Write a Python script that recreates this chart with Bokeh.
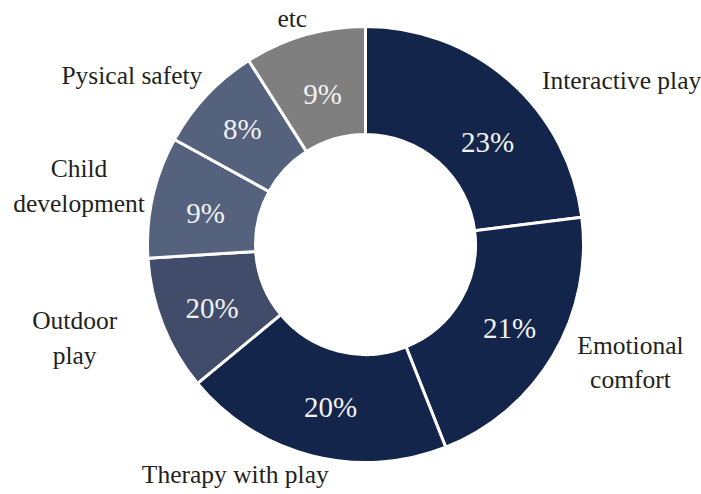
import math
from bokeh.plotting import figure
from bokeh.models import ColumnDataSource, Range1d
from bokeh.core.properties import value
from bokeh.embed import file_html
from bokeh.resources import INLINE

# ---- data ----
categories = ["Interactive play", "Emotional comfort", "Therapy with play", "Outdoor play",
              "Child development", "Pysical safety", "etc"]
outer_labels = ["Interactive play", "Emotional\ncomfort", "Therapy with play", "Outdoor\nplay",
                "Child\ndevelopment", "Pysical safety", "etc"]
shares = [23, 21, 20, 10, 9, 8, 9]            # slice sizes as drawn
pct_labels = ["23%", "21%", "20%", "20%", "9%", "8%", "9%"]  # labels as printed
colors = ["#13254a", "#13254a", "#13254a", "#404c6a", "#55627e", "#55627e", "#7f7f7f"]

# ---- layout / style ----
W, H = 701, 494
CX, CY = 365, H - 244
R_OUT, R_IN = 218, 110
R_PCT = 165
R_LAB = 230
pct_dx = [13, 2, 6, 0, 1, -3, 3]
pct_dy = [21, 0, 3, 3, 4, -3, 8]
lab_dx = [104, 67, -73, -77, -62, -66, -9]
lab_dy = [9, 1, 7, 9, -8, -12, -5]
FONT = value("Liberation Serif")

total = float(sum(shares))
starts, ends, mids = [], [], []
cum = 0.0
for s in shares:
    a0 = math.pi / 2 - 2 * math.pi * cum / total
    cum += s
    a1 = math.pi / 2 - 2 * math.pi * cum / total
    starts.append(a1)
    ends.append(a0)
    mids.append((a0 + a1) / 2)

wedges = ColumnDataSource(dict(start=starts, end=ends, color=colors, name=categories))

pct_src = ColumnDataSource(dict(
    x=[CX + R_PCT * math.cos(m) for m in mids],
    y=[CY + R_PCT * math.sin(m) for m in mids],
    text=pct_labels, xo=pct_dx, yo=pct_dy))

lab_src = ColumnDataSource(dict(
    x=[CX + R_LAB * math.cos(m) for m in mids],
    y=[CY + R_LAB * math.sin(m) for m in mids],
    text=outer_labels, xo=lab_dx, yo=lab_dy))

p = figure(width=W, height=H, x_range=Range1d(0, W), y_range=Range1d(0, H),
           output_backend="svg", toolbar_location=None, min_border=0)
p.axis.visible = False
p.grid.visible = False
p.outline_line_color = None
p.background_fill_color = "white"

p.annular_wedge(x=CX, y=CY, inner_radius=R_IN, outer_radius=R_OUT,
                start_angle="start", end_angle="end", direction="anticlock",
                fill_color="color", line_color="white", line_width=3, source=wedges)

p.text(x="x", y="y", text="text", x_offset="xo", y_offset="yo", source=pct_src,
       text_font=FONT, text_font_size="29px", text_color="#f2f2f2",
       text_align="center", text_baseline="middle")

p.text(x="x", y="y", text="text", x_offset="xo", y_offset="yo", source=lab_src,
       text_font=FONT, text_font_size="25.5px", text_color="#231f20",
       text_align="center", text_baseline="middle", text_line_height=1.2)

open("out.html", "w").write(file_html(p, INLINE))
